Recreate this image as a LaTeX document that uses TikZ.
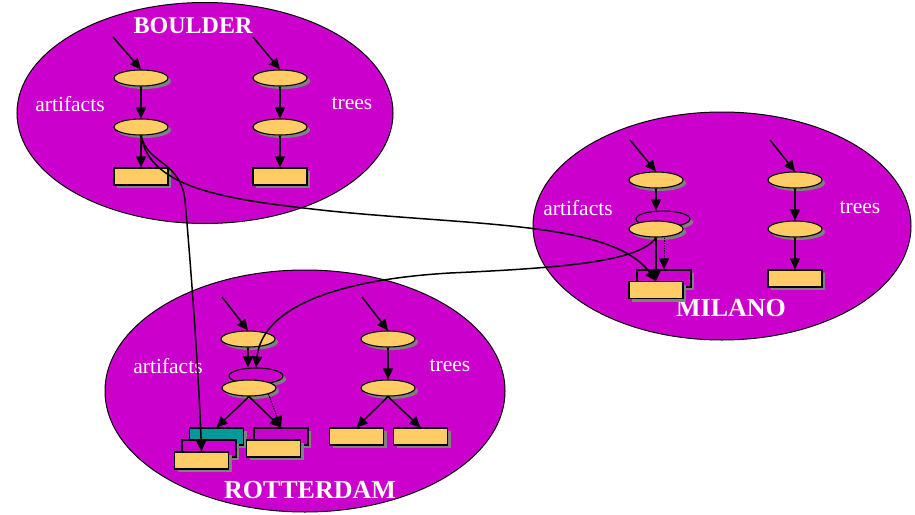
\documentclass[tikz,border=0pt]{standalone}
\usepackage{fontspec}
\setmainfont{Liberation Serif}
\usetikzlibrary{shapes.geometric,shadows,arrows.meta}
\definecolor{mag}{RGB}{204,0,204}
\definecolor{myyel}{RGB}{255,204,102}
\definecolor{myteal}{RGB}{0,153,153}
\definecolor{shad}{RGB}{128,128,128}
\tikzset{
  shd/.style={drop shadow={shadow xshift=3pt,shadow yshift=-3pt,fill=shad,opacity=1}},
  site/.style={ellipse,draw=black,fill=mag,line width=1pt,inner sep=0pt},
  ov/.style={ellipse,draw=black,fill=myyel,line width=1.1pt,minimum width=54pt,minimum height=16pt,inner sep=0pt,shd},
  ovback/.style={ov,fill=mag},
  bx/.style={rectangle,draw=black,fill=myyel,line width=1.1pt,minimum width=54pt,minimum height=17pt,inner sep=0pt,shd},
  bxback/.style={bx,fill=mag},
  bxteal/.style={bx,fill=myteal},
  arr/.style={-{Triangle[length=11pt,width=10pt]},line width=1.5pt},
  lbl/.style={text=white,font=\fontsize{21.5}{24}\selectfont},
  title/.style={text=white,font=\fontsize{26}{28}\selectfont\bfseries}
}
\begin{document}
\begin{tikzpicture}[x=1pt,y=-1pt]
\useasboundingbox (0,0) rectangle (915,514);
% sites
\node[site,minimum width=376pt,minimum height=221pt] (boulder) at (205,113) {};
\node[site,minimum width=378pt,minimum height=228pt] (milano) at (722,226) {};
\node[site,minimum width=400pt,minimum height=242pt] (rotterdam) at (305,391) {};
% titles and labels
\node[title,font=\fontsize{24}{26}\selectfont\bfseries] (tb) at (193,26) {BOULDER};
\node[title] (tm) at (731,308) {MILANO};
\node[title] (tr) at (310,490) {ROTTERDAM};
\node[lbl] (lb1) at (70,104) {artifacts};
\node[lbl] (lb2) at (352,104) {trees};
\node[lbl] (lm1) at (578,208) {artifacts};
\node[lbl] (lm2) at (860,208) {trees};
\node[lbl] (lr1) at (168,366) {artifacts};
\node[lbl] (lr2) at (450,366) {trees};
% Boulder
\node[ov] (b1) at (141,78) {};
\node[ov] (b2) at (141,127) {};
\node[bx] (b3) at (141,176.5) {};
\node[ov] (b4) at (280,78) {};
\node[ov] (b5) at (280,127) {};
\node[bx] (b6) at (280,176.5) {};
\coordinate (bs1) at (113,37);
\coordinate (bs2) at (253,37);
% Milano
\node[ov] (m1) at (656,180) {};
\node[ovback] (m2l) at (663,219) {};
\node[ov] (m2) at (656,229) {};
\node[bxback] (m3b) at (664,278.5) {};
\node[bx] (m3) at (656,290) {};
\node[ov] (m4) at (795,180) {};
\node[ov] (m5) at (795,229) {};
\node[bx] (m6) at (795,278.5) {};
\coordinate (ms1) at (630,140);
\coordinate (ms2) at (770,140);
% Rotterdam
\node[ov] (r1) at (248,339) {};
\node[ovback] (r2l) at (256,376) {};
\node[ov] (r2) at (249,388) {};
\node[bxteal] (r3a) at (216.5,436.5) {};
\node[bxback] (r3b) at (209,448.5) {};
\node[bx] (r3c) at (201.5,460.5) {};
\node[bxback] (r3d) at (281,436.5) {};
\node[bx] (r3e) at (273.5,448.5) {};
\node[ov] (r4) at (388,339) {};
\node[ov] (r5) at (388,388) {};
\node[bx] (r6) at (356.5,436.5) {};
\node[bx] (r7) at (420.5,436.5) {};
\coordinate (rs1) at (222,297);
\coordinate (rs2) at (362,297);
% Boulder arrows
\draw[arr] (bs1) -- (b1.north);
\draw[arr] (b1) -- (b2);
\draw[arr] (b2) -- (b3);
\draw[arr] (bs2) -- (b4.north);
\draw[arr] (b4) -- (b5);
\draw[arr] (b5) -- (b6);
% Milano arrows
\draw[arr] (ms1) -- (m1.north);
\draw[arr] (m1.south) -- (m2l.north -| m1.south);
\draw[arr] (m2.south) -- (m3.north);
\draw[arr,densely dotted,line width=1pt] (m2.south -| m3b.north) -- (m3b.north);
\draw[arr] (ms2) -- (m4.north);
\draw[arr] (m4) -- (m5);
\draw[arr] (m5) -- (m6);
% Rotterdam arrows
\draw[arr] (rs1) -- (r1.north);
\draw[arr] (r1.south) -- (r2l.north -| r1.south);
\draw[arr] (r2.south) -- (r3a.north);
\draw[arr] (r2.south) -- (r3d.north);
\draw[arr,densely dotted,line width=1pt] (r2.south east) -- (r3d.north);
\draw[arr] (rs2) -- (r4.north);
\draw[arr] (r4) -- (r5);
\draw[arr] (r5.south) -- (r6.north);
\draw[arr] (r5.south) -- (r7.north);
% cross-site connectors
\draw[arr] (b2.south) .. controls (150,190) and (230,200) .. (330,211) .. controls (480,226) and (612,222) .. (m3.north);
\draw[arr] (b2.south) .. controls (148,165) and (180,160) .. (185,200) .. controls (192,280) and (199,380) .. (r3c.north);
\draw[arr] (m2.south) .. controls (640,262) and (560,268) .. (450,273) .. controls (330,280) and (262,310) .. (r2l.north);
\end{tikzpicture}
\end{document}
